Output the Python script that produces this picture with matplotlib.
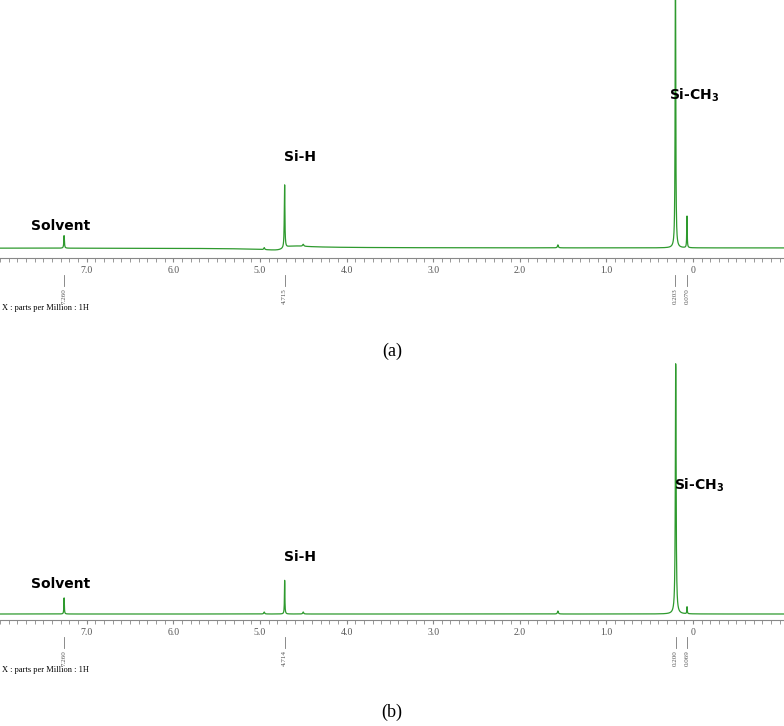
import numpy as np
import matplotlib.pyplot as plt
from matplotlib.ticker import MultipleLocator, FixedLocator

W, H = 784, 726
ppm = np.linspace(8.0, -1.05, 6000)

# peaks: position (ppm), height (px above baseline), half-width (ppm)
pos_a = [7.260, 4.950, 4.715, 4.500, 1.560, 0.203, 0.070]
hgt_a = [13, 2, 65, 2, 3, 300, 33]
wid_a = [0.004, 0.006, 0.004, 0.008, 0.006, 0.004, 0.003]
pos_b = [7.260, 4.950, 4.714, 4.500, 1.560, 0.200, 0.069]
hgt_b = [17, 2, 34, 2, 3, 254, 7]
wid_b = [0.003, 0.006, 0.003, 0.006, 0.006, 0.005, 0.003]

labels_a = ["7.260", "4.715", "0.203", "0.070"]
labels_b = ["7.260", "4.714", "0.200", "0.069"]

GREEN = "#2e9a2e"


def spectrum(pos, hgt, wid, disp=0.0):
    y = np.zeros_like(ppm)
    for p, h, w in zip(pos, hgt, wid):
        d = (ppm - p) / w
        y += h / (1 + d ** 2)
    if disp:
        # phase distortion around Si-H in (a)
        d = (ppm - 4.715) / 0.12
        y += disp * d / (1 + d ** 2)
    return y


def panel(top_px, axis_px, base_px, pos, hgt, wid, labels, names, tag, tag_y, disp=0.0):
    ax = fig.add_axes([0, 1 - axis_px / H, 1, (axis_px - top_px) / H])
    ax.plot(ppm, spectrum(pos, hgt, wid, disp), color=GREEN, lw=0.9)
    ax.set_xlim(8.0, -1.05)
    ax.set_ylim(-(axis_px - base_px), axis_px - top_px - (axis_px - base_px))
    for s in ["top", "left", "right"]:
        ax.spines[s].set_visible(False)
    ax.spines["bottom"].set_color("#888888")
    ax.set_yticks([])
    ax.xaxis.set_major_locator(FixedLocator([7, 6, 5, 4, 3, 2, 1, 0]))
    ax.set_xticklabels(["7.0", "6.0", "5.0", "4.0", "3.0", "2.0", "1.0", "0"],
                       fontfamily="Liberation Serif", fontsize=7, color="#555555")
    ax.xaxis.set_minor_locator(MultipleLocator(0.1))
    ax.tick_params(axis="x", which="both", color="#888888", length=3, pad=3)
    for lab in labels:
        x = float(lab)
        xf = ax.transData.transform((x, 0))[0] / W
        fig.add_artist(plt.Line2D([xf, xf],
                                  [1 - (axis_px + 17) / H, 1 - (axis_px + 28) / H],
                                  color="#777777", lw=0.6))
        fig.text(xf, 1 - (axis_px + 30) / H, lab, rotation=90, ha="center", va="top",
                 fontfamily="Liberation Serif", fontsize=5, color="#555555")
    fig.text(2 / W, 1 - (axis_px + 50) / H, "X : parts per Million : 1H",
             fontfamily="Liberation Serif", fontsize=6, va="center")
    for (x, y, s) in names:
        fig.text(x / W, 1 - y / H, s, fontsize=10, fontweight="bold",
                 fontfamily="DejaVu Sans", ha="center", va="center")
    fig.text(0.5, 1 - tag_y / H, tag, fontfamily="Liberation Serif", fontsize=13,
             ha="center", va="center")
    return ax


fig = plt.figure(figsize=(W / 100, H / 100), dpi=100)
fig.canvas.draw()
panel(0, 258, 248, pos_a, hgt_a, wid_a, labels_a,
      [(61, 226, "Solvent"), (300, 157, "Si-H"), (694, 95, r"Si-CH$_\mathbf{3}$")],
      "(a)", 351, disp=-4)
panel(340, 620, 614, pos_b, hgt_b, wid_b, labels_b,
      [(61, 584, "Solvent"), (300, 557, "Si-H"), (699, 485, r"Si-CH$_\mathbf{3}$")],
      "(b)", 712)
fig.savefig("out.png", dpi=100)
